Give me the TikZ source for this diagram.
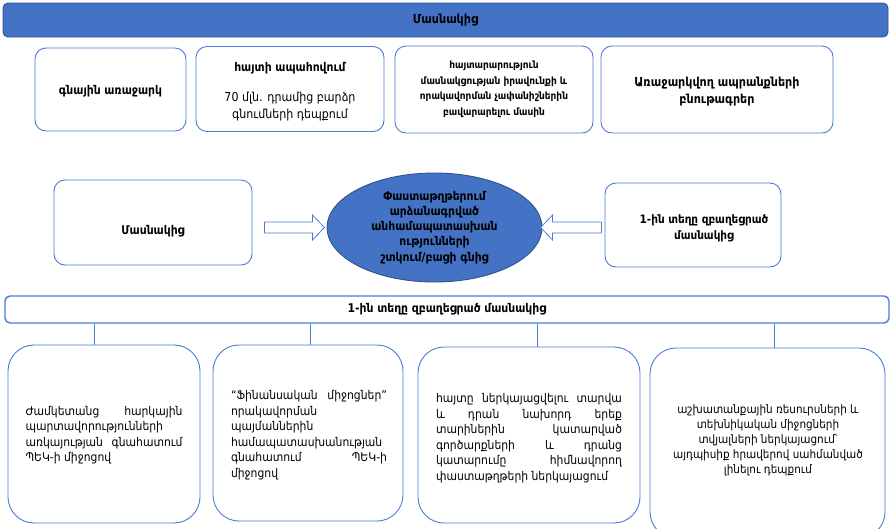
\documentclass[tikz,border=0pt]{standalone}
\usepackage{fontspec}
\setmainfont{DejaVu Sans Condensed}
\usetikzlibrary{shapes.geometric}
\definecolor{bl}{HTML}{4472C4}
\definecolor{bd}{HTML}{2F528F}
\definecolor{bx}{HTML}{4A7CD3}
\begin{document}
\begin{tikzpicture}[x=1pt,y=-1pt,
  box/.style={draw=bx, line width=0.9pt, rounded corners=11pt, inner sep=0pt, fill=white},
  bigbox/.style={draw=bx, line width=0.9pt, rounded corners=26pt, inner sep=0pt, fill=white},
  btxt/.style={font=\bfseries\fontsize{12}{16}\selectfont, align=center, inner sep=0pt},
  ntxt/.style={font=\fontsize{12.3}{17}\selectfont, align=center, inner sep=0pt},
  jtxt/.style={font=\fontsize{12}{15.5}\selectfont, align=justify, inner sep=0pt},
  conn/.style={draw=bx, line width=0.6pt},
  barr/.style={draw=bx, line width=0.8pt, fill=white}]
\useasboundingbox (0,0) rectangle (891,528);
% top bar
\node[draw=bd, fill=bl, line width=0.9pt, rounded corners=5pt, minimum width=885pt, minimum height=34pt, inner sep=0pt] (top) at (445.5,20) {};
\node[btxt, font=\bfseries\fontsize{12.4}{15}\selectfont] (topt) at (top.center) {Մասնակից};
% row 1 boxes
\node[box, minimum width=151pt, minimum height=83pt] (b1) at (110.5,89.5) {};
\node[btxt] (b1t) at (110.5,91) {գնային առաջարկ};
\node[box, minimum width=188pt, minimum height=85pt] (b2) at (290,89) {};
\node[btxt] (b2t) at (290,68) {հայտի ապահովում};
\node[ntxt] (b2s) at (290,106.5) {70 մլն. դրամից բարձր\\գնումների դեպքում};
\node[box, minimum width=198pt, minimum height=87pt] (b3) at (494,89.5) {};
\node[btxt, font=\bfseries\fontsize{10}{15.5}\selectfont] (b3t) at (494,89) {հայտարարություն\\մասնակցության իրավունքի և\\որակավորման չափանիշներին\\բավարարելու մասին};
\node[box, minimum width=232pt, minimum height=87pt] (b4) at (717,89.5) {};
\node[btxt, font=\bfseries\fontsize{12.4}{17}\selectfont] (b4t) at (717,91.5) {Առաջարկվող ապրանքների\\բնութագրեր};
% middle row
\node[box, minimum width=198pt, minimum height=85pt] (lb) at (153,222.5) {};
\node[btxt] (lbt) at (153,231) {Մասնակից};
\node[ellipse, draw=bd, fill=bl, line width=0.9pt, minimum width=215pt, minimum height=109pt, inner sep=0pt] (el) at (434.5,227.5) {};
\node[btxt, font=\bfseries\fontsize{12}{15.2}\selectfont] (elt) at (el.center) {Փաստաթղթերում\\արձանագրված\\անհամապատասխան\\ությունների\\շտկում/բացի գնից};
\node[box, minimum width=176pt, minimum height=84pt] (rb) at (693,225) {};
\node[btxt, font=\bfseries\fontsize{11.6}{16.5}\selectfont] (rbt) at (704,228.5) {1-ին տեղը զբաղեցրած\\մասնակից};
% block arrows
\coordinate (a1) at (lb.east |- el.center);
\coordinate (a2) at (rb.west |- el.center);
\draw[barr] (a1) ++(12,-5.5) -- ++(48,0) -- ++(0,-7) -- ++(12,12.5) -- ++(-12,12.5) -- ++(0,-7) -- ++(-48,0) -- cycle;
\draw[barr] (a2) ++(-3,-5.5) -- ++(-49,0) -- ++(0,-7) -- ++(-12,12.5) -- ++(12,12.5) -- ++(0,-7) -- ++(49,0) -- cycle;
% middle bar
\node[draw=bx, line width=1.4pt, rounded corners=5pt, minimum width=884pt, minimum height=27pt, inner sep=0pt, fill=white] (mid) at (447,309.5) {};
\node[btxt] (midt) at (mid.center) {1-ին տեղը զբաղեցրած մասնակից};
% bottom boxes
\node[bigbox, minimum width=192pt, minimum height=178pt] (A) at (104,434) {};
\node[bigbox, minimum width=190pt, minimum height=176pt] (B) at (308,433) {};
\node[bigbox, minimum width=222pt, minimum height=176pt] (C) at (529,435) {};
\node[bigbox, minimum width=235pt, minimum height=190pt] (D) at (767.5,443) {};
\node[jtxt, text width=157pt] (At) at (104,435) {Ժամկետանց հարկային\linebreak պարտավորությունների\\առկայության գնահատում\linebreak ՊԵԿ-ի միջոցով};
\node[jtxt, text width=156pt] (Bt) at (309,435) {“Ֆինանսական միջոցներ”\linebreak որակավորման\\պայմաններին\\համապատասխանության\\գնահատում ՊԵԿ-ի\linebreak միջոցով};
\node[jtxt, text width=186pt] (Ct) at (529,438) {հայտը ներկայացվելու տարվա\linebreak և դրան նախորդ երեք\linebreak տարիներին կատարված\linebreak գործարքների և դրանց\linebreak կատարումը հիմնավորող\linebreak փաստաթղթերի ներկայացում};
\node[ntxt, font=\fontsize{11.6}{14.9}\selectfont] (Dt) at (768,440) {աշխատանքային ռեսուրսների և\\տեխնիկական միջոցների\\տվյալների ներկայացում՝\\այդպիսիք հրավերով սահմանված\\լինելու դեպքում};
% connectors
\coordinate (l1) at (94,323.5);
\coordinate (l2) at (310,323.5);
\coordinate (l3) at (537,323.5);
\coordinate (l4) at (774,323.5);
\draw[conn] (l1) -- (A.north -| l1);
\draw[conn] (l2) -- (B.north -| l2);
\draw[conn] (l3) -- (C.north -| l3);
\draw[conn] (l4) -- (D.north -| l4);
\end{tikzpicture}
\end{document}
